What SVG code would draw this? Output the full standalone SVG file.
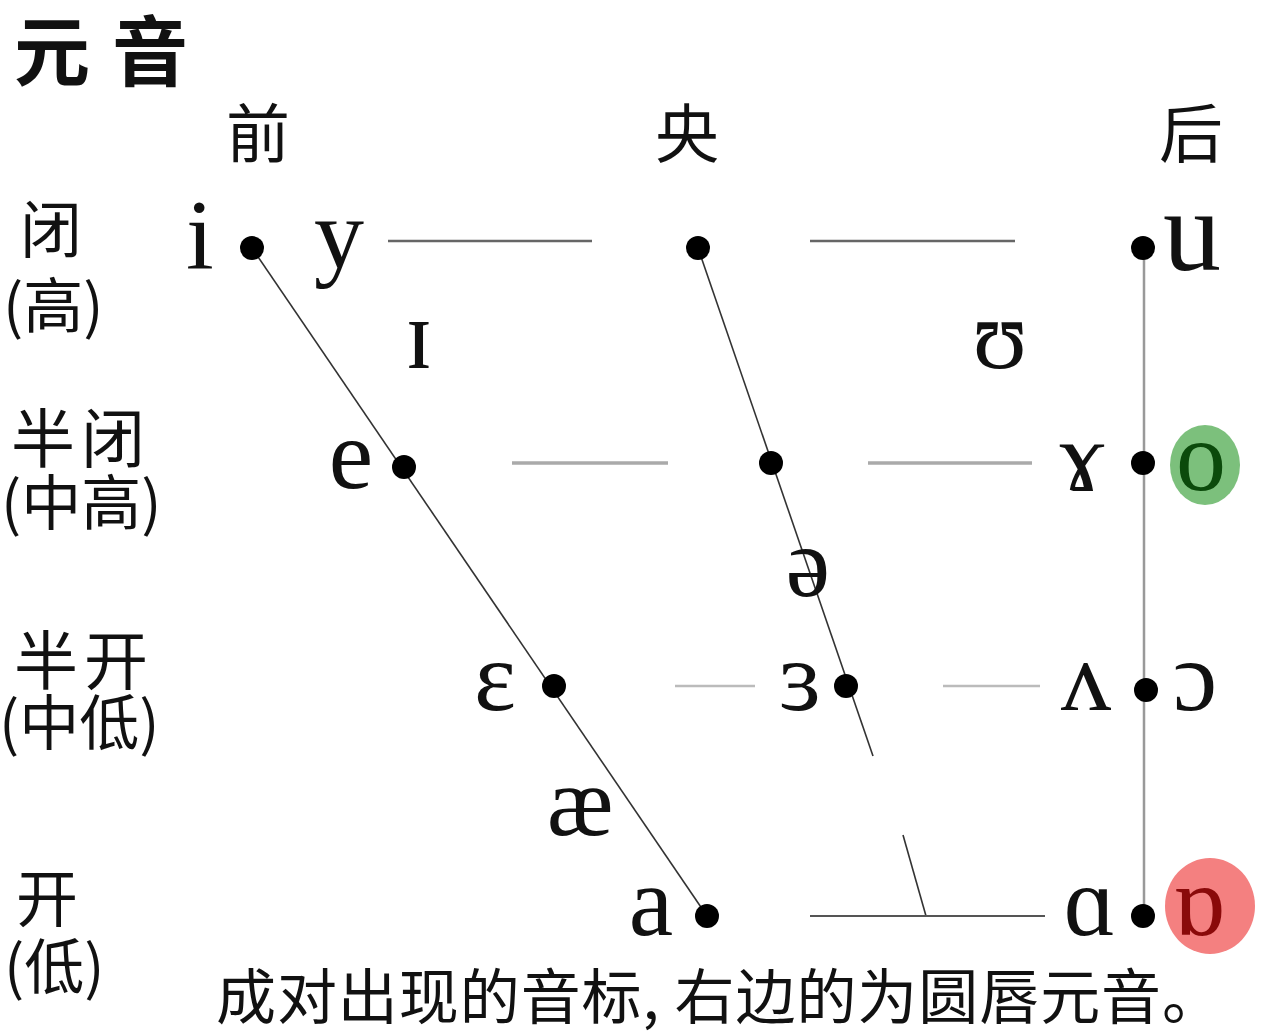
<svg xmlns="http://www.w3.org/2000/svg" width="1262" height="1034" viewBox="0 0 1262 1034">
<style>
.cjk{font-family:"Noto Sans CJK SC","Noto Sans CJK JP",sans-serif;fill:#111}
.ipa{font-family:"Liberation Serif","DejaVu Serif",serif;font-size:100px;fill:#111;text-anchor:middle}
.dot{fill:#000}
</style>
<rect width="1262" height="1034" fill="#fff"/>
<text class="cjk" x="14" y="80" font-size="76" font-weight="bold" letter-spacing="22">元音</text>
<g id="headers" class="cjk" font-size="64">
<text x="226" y="157">前</text>
<text x="655" y="157">央</text>
<text x="1159" y="157">后</text>
</g>
<g id="rows" class="cjk" font-size="60">
<text x="20" y="253" font-size="62">闭</text>
<text x="3" y="328">(高)</text>
<text x="11" y="462" font-size="64" letter-spacing="6">半闭</text>
<text x="1" y="525">(中高)</text>
<text x="14" y="684" font-size="64" letter-spacing="6">半开</text>
<text x="-1" y="745">(中低)</text>
<text x="16" y="922" font-size="62">开</text>
<text x="4" y="989">(低)</text>
</g>
<g id="connectors" fill="none">
<line x1="252" y1="248" x2="707" y2="916" stroke="#333" stroke-width="1.6"/>
<line x1="698" y1="248" x2="873" y2="756" stroke="#333" stroke-width="1.6"/>
<line x1="903" y1="835" x2="926" y2="916" stroke="#333" stroke-width="1.6"/>
<line x1="1144" y1="248" x2="1144" y2="916" stroke="#999" stroke-width="2.5"/>
<line x1="388" y1="241" x2="592" y2="241" stroke="#666" stroke-width="2.5"/>
<line x1="810" y1="241" x2="1015" y2="241" stroke="#666" stroke-width="2.5"/>
<line x1="512" y1="463" x2="668" y2="463" stroke="#aaa" stroke-width="3.5"/>
<line x1="868" y1="463" x2="1032" y2="463" stroke="#aaa" stroke-width="3.5"/>
<line x1="675" y1="686" x2="755" y2="686" stroke="#bbb" stroke-width="2.5"/>
<line x1="943" y1="686" x2="1040" y2="686" stroke="#bbb" stroke-width="2.5"/>
<line x1="810" y1="916" x2="1045" y2="916" stroke="#555" stroke-width="2"/>
</g>
<g id="highlights">
<ellipse cx="1205" cy="465" rx="35" ry="40" fill="#7cc07c"/>
<ellipse cx="1210" cy="906" rx="45" ry="48" fill="#f48080"/>
</g>
<g id="dots">
<circle class="dot" cx="252" cy="248" r="12"/>
<circle class="dot" cx="698" cy="248" r="12"/>
<circle class="dot" cx="1143" cy="248" r="12"/>
<circle class="dot" cx="404" cy="467" r="12"/>
<circle class="dot" cx="771" cy="463" r="12"/>
<circle class="dot" cx="1143" cy="463" r="12"/>
<circle class="dot" cx="554" cy="686" r="12"/>
<circle class="dot" cx="846" cy="686" r="12"/>
<circle class="dot" cx="1146" cy="690" r="12"/>
<circle class="dot" cx="707" cy="916" r="12"/>
<circle class="dot" cx="1143" cy="916" r="12"/>
</g>
<g id="vowels" class="ipa">
<text x="200" y="268">i</text>
<text x="339" y="268">y</text>
<text x="419" y="368">ɪ</text>
<text x="1000" y="368">ʊ</text>
<text x="1192" y="270" font-size="116">u</text>
<text x="351" y="488">e</text>
<text x="1082" y="490">ɤ</text>
<text x="1201" y="490" fill="#0b4a0b">o</text>
<text x="808" y="596">ə</text>
<text x="495" y="710">ɛ</text>
<text x="800" y="710">ɜ</text>
<text x="1086" y="710">ʌ</text>
<text x="1195" y="710">ɔ</text>
<text x="580" y="835">æ</text>
<text x="651" y="935">a</text>
<text x="1090" y="935">ɑ</text>
<text x="1199" y="935" fill="#8a0a0a">ɒ</text>
</g>
<text class="cjk" x="216" y="1019" font-size="60" textLength="1006" lengthAdjust="spacing">成对出现的音标, 右边的为圆唇元音。</text>
</svg>
